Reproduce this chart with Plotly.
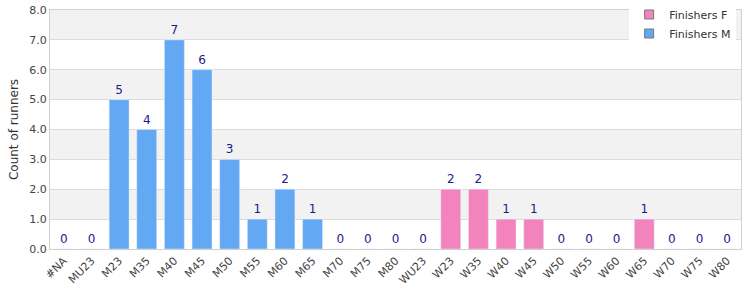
import plotly.graph_objects as go

categories = ["#NA", "MU23", "M23", "M35", "M40", "M45", "M50", "M55", "M60", "M65",
              "M70", "M75", "M80", "WU23", "W23", "W35", "W40", "W45", "W50", "W55",
              "W60", "W65", "W70", "W75", "W80"]
finishers_m = [0, 0, 5, 4, 7, 6, 3, 1, 2, 1, 0, 0, 0, None, None, None, None, None,
               None, None, None, None, None, None, None]
finishers_f = [None, None, None, None, None, None, None, None, None, None, None, None,
               None, 0, 2, 2, 1, 1, 0, 0, 0, 1, 0, 0, 0]
y_ticks = [0, 1, 2, 3, 4, 5, 6, 7, 8]

blue = "#62a8f2"
pink = "#f383bd"
label_color = "#1a1a8c"

fig = go.Figure()
fig.add_trace(go.Bar(
    x=categories, y=finishers_f, name="Finishers F", showlegend=False,
    marker=dict(color=pink),
    text=[None if v is None else str(v) for v in finishers_f],
    textposition="outside", cliponaxis=False,
    textfont=dict(color=label_color, size=12, family="DejaVu Sans"),
))
fig.add_trace(go.Bar(
    x=categories, y=finishers_m, name="Finishers M", showlegend=False,
    marker=dict(color=blue),
    text=[None if v is None else str(v) for v in finishers_m],
    textposition="outside", cliponaxis=False,
    textfont=dict(color=label_color, size=12, family="DejaVu Sans"),
))
# legend entries
for name, col in [("Finishers F", pink), ("Finishers M", blue)]:
    fig.add_trace(go.Scatter(
        x=[None], y=[None], mode="markers", name=name,
        marker=dict(symbol="square", size=9, color=col, line=dict(color="#777", width=1)),
    ))

shapes = []
for i in range(len(y_ticks) - 1):
    if i % 2 == 1:
        shapes.append(dict(type="rect", xref="paper", yref="y", x0=0, x1=1,
                           y0=y_ticks[i], y1=y_ticks[i + 1],
                           fillcolor="#f2f2f2", line=dict(width=0), layer="below"))

fig.update_layout(
    width=750, height=300,
    margin=dict(l=50, r=9, t=10, b=51, autoexpand=False),
    paper_bgcolor="white", plot_bgcolor="white",
    barmode="overlay", bargap=0.28,
    font=dict(family="DejaVu Sans", size=11, color="#444"),
    shapes=shapes,
    showlegend=True,
    legend=dict(x=0.993, y=1.0, xref="paper", yref="container",
                xanchor="right", yanchor="top",
                bgcolor="white", font=dict(size=11, color="#333"),
                traceorder="normal", tracegroupgap=0,
                itemwidth=30, borderwidth=0),
)
fig.update_xaxes(
    type="category", tickangle=-45, showgrid=False,
    showline=True, linecolor="#d0d0d0", mirror=True,
    tickfont=dict(size=11, color="#444"), ticks="",
)
fig.update_yaxes(
    range=[0, 8], tickvals=y_ticks, tickformat=".1f",
    showgrid=True, gridcolor="#dcdcdc",
    showline=True, linecolor="#d0d0d0", mirror=True,
    title=dict(text="Count of runners", font=dict(size=12, color="#333"), standoff=8),
    tickfont=dict(size=11, color="#444"), zeroline=False,
)

fig.write_html("out.html")
